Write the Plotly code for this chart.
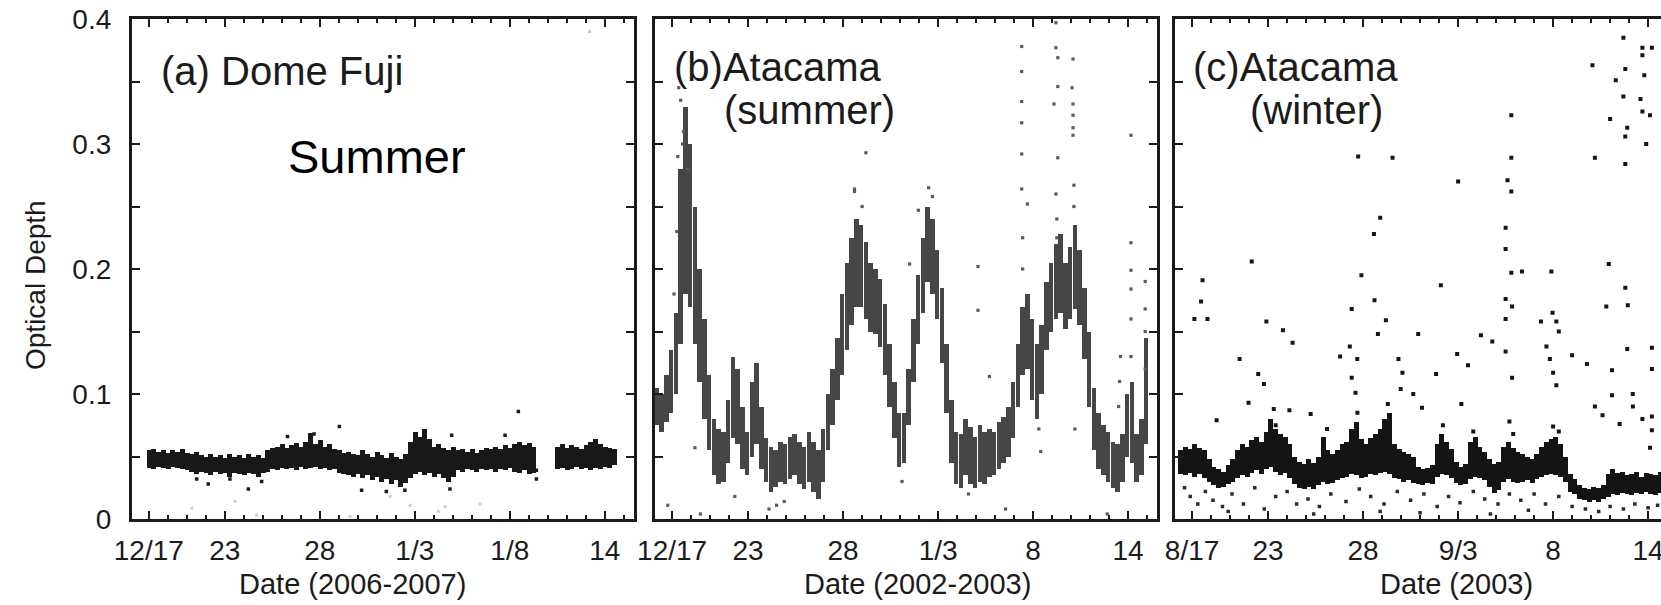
import plotly.graph_objects as go

# ---------------------------------------------------------------- data
# Each panel: samples every 0.25 day (x in days from the left axis edge),
# optical depth given as the lower and upper edge of the scatter cloud.
A_T0, B_T0, C_T0, STEP = 0.9, 0.1, 0.3, 0.25

dome_lo = [0.041, 0.040, 0.042, 0.041, 0.040, 0.042, 0.041, 0.040, 0.039, 0.038,
           0.036, 0.038, 0.037, 0.035, 0.038, 0.036, 0.037, 0.034, 0.037, 0.036,
           0.035, 0.037, 0.036, 0.034, 0.037, 0.038, 0.040, 0.039, 0.041, 0.040,
           0.041, 0.039, 0.042, 0.040, 0.041, 0.042, 0.040, 0.041, 0.039, 0.040,
           0.037, 0.036, 0.035, 0.034, 0.036, 0.033, 0.035, 0.031, 0.034, 0.030,
           0.032, 0.028, 0.031, 0.026, 0.029, 0.033, 0.036, 0.038, 0.035, 0.037,
           0.034, 0.036, 0.033, 0.030, 0.034, 0.039, 0.038, 0.040, 0.039, 0.038,
           0.040, 0.039, 0.040, 0.038, 0.040, 0.039, 0.041, 0.038, 0.037, 0.039,
           0.036, 0.037, None, None, None, None, 0.040, 0.041, 0.039, 0.040,
           0.042, 0.040, 0.041, 0.039, 0.041, 0.040, 0.042, 0.041, 0.043]
dome_hi = [0.055, 0.056, 0.054, 0.055, 0.053, 0.055, 0.054, 0.056, 0.053, 0.052,
           0.054, 0.051, 0.050, 0.052, 0.050, 0.051, 0.049, 0.052, 0.050, 0.051,
           0.049, 0.052, 0.050, 0.051, 0.049, 0.055, 0.057, 0.058, 0.060, 0.057,
           0.059, 0.061, 0.058, 0.062, 0.069, 0.060, 0.063, 0.058, 0.060, 0.056,
           0.055, 0.053, 0.054, 0.052, 0.051, 0.055, 0.052, 0.050, 0.054, 0.051,
           0.049, 0.053, 0.050, 0.048, 0.052, 0.062, 0.070, 0.066, 0.072, 0.064,
           0.058, 0.060, 0.057, 0.055, 0.058, 0.055, 0.056, 0.054, 0.056, 0.053,
           0.055, 0.057, 0.056, 0.058, 0.056, 0.059, 0.057, 0.060, 0.062, 0.059,
           0.061, 0.058, None, None, None, None, 0.058, 0.060, 0.057, 0.059,
           0.058, 0.056, 0.059, 0.062, 0.064, 0.060, 0.058, 0.057, 0.056]

atas_lo = [0.075, 0.070, 0.078, 0.085, 0.100, 0.140, 0.180, 0.170, 0.140, 0.110,
           0.080, 0.055, 0.035, 0.028, 0.030, 0.045, 0.065, 0.060, 0.040, 0.035,
           0.050, 0.060, 0.040, 0.030, 0.022, 0.026, 0.030, 0.028, 0.032, 0.035,
           0.028, 0.024, 0.030, 0.022, 0.016, 0.030, 0.055, 0.075, 0.095, 0.115,
           0.135, 0.155, 0.170, 0.170, 0.160, 0.150, 0.148, 0.138, 0.115, 0.090,
           0.065, 0.042, 0.045, 0.075, 0.110, 0.140, 0.165, 0.190, 0.180, 0.160,
           0.125, 0.085, 0.045, 0.028, 0.025, 0.035, 0.028, 0.025, 0.030, 0.028,
           0.034, 0.035, 0.040, 0.045, 0.050, 0.065, 0.090, 0.115, 0.120, 0.095,
           0.080, 0.100, 0.135, 0.150, 0.160, 0.165, 0.152, 0.160, 0.168, 0.155,
           0.128, 0.090, 0.055, 0.040, 0.035, 0.030, 0.025, 0.022, 0.030, 0.050,
           0.045, 0.030, 0.035, 0.060]
atas_hi = [0.105, 0.100, 0.115, 0.135, 0.165, 0.280, 0.330, 0.300, 0.250, 0.200,
           0.160, 0.115, 0.080, 0.072, 0.070, 0.095, 0.130, 0.120, 0.090, 0.070,
           0.110, 0.125, 0.090, 0.065, 0.058, 0.055, 0.062, 0.060, 0.066, 0.068,
           0.062, 0.058, 0.070, 0.062, 0.055, 0.072, 0.100, 0.120, 0.145, 0.180,
           0.205, 0.225, 0.240, 0.235, 0.222, 0.205, 0.200, 0.192, 0.172, 0.140,
           0.110, 0.085, 0.085, 0.120, 0.160, 0.195, 0.225, 0.250, 0.240, 0.215,
           0.185, 0.140, 0.095, 0.070, 0.068, 0.080, 0.074, 0.066, 0.075, 0.070,
           0.072, 0.070, 0.078, 0.082, 0.090, 0.110, 0.140, 0.170, 0.180, 0.160,
           0.140, 0.155, 0.190, 0.205, 0.220, 0.228, 0.205, 0.218, 0.235, 0.215,
           0.185, 0.150, 0.105, 0.085, 0.075, 0.070, 0.062, 0.060, 0.068, 0.100,
           0.110, 0.068, 0.080, 0.145]

ataw_lo = [0.036, 0.035, 0.037, 0.034, 0.036, 0.033, 0.030, 0.027, 0.025, 0.026,
           0.028, 0.030, 0.033, 0.035, 0.034, 0.037, 0.039, 0.036, 0.040, 0.042,
           0.038, 0.035, 0.037, 0.033, 0.028, 0.025, 0.024, 0.026, 0.024, 0.027,
           0.030, 0.028, 0.029, 0.031, 0.033, 0.034, 0.036, 0.035, 0.033, 0.034,
           0.036, 0.035, 0.037, 0.038, 0.036, 0.033, 0.032, 0.030, 0.031, 0.029,
           0.028, 0.027, 0.029, 0.028, 0.034, 0.036, 0.035, 0.033, 0.029, 0.027,
           0.028, 0.032, 0.034, 0.033, 0.031, 0.026, 0.021, 0.023, 0.030, 0.032,
           0.030, 0.029, 0.030, 0.031, 0.029, 0.032, 0.034, 0.035, 0.036, 0.035,
           0.034, 0.030, 0.022, 0.020, 0.016, 0.015, 0.014, 0.015, 0.014, 0.016,
           0.018, 0.020, 0.019, 0.021, 0.020, 0.019, 0.021, 0.020, 0.022, 0.020,
           0.019, 0.021]
ataw_hi = [0.055, 0.058, 0.056, 0.060, 0.057, 0.055, 0.048, 0.042, 0.040, 0.038,
           0.043, 0.048, 0.055, 0.060, 0.058, 0.063, 0.066, 0.062, 0.070, 0.080,
           0.072, 0.068, 0.066, 0.060, 0.050, 0.046, 0.044, 0.048, 0.045, 0.050,
           0.066, 0.055, 0.052, 0.055, 0.060, 0.062, 0.072, 0.078, 0.064, 0.060,
           0.065, 0.068, 0.072, 0.080, 0.085, 0.060, 0.056, 0.054, 0.052, 0.050,
           0.042, 0.040, 0.041, 0.043, 0.060, 0.068, 0.062, 0.056, 0.046, 0.042,
           0.044, 0.062, 0.066, 0.058, 0.054, 0.048, 0.044, 0.046, 0.058, 0.062,
           0.057, 0.054, 0.052, 0.050, 0.048, 0.052, 0.058, 0.062, 0.064, 0.066,
           0.060, 0.050, 0.036, 0.032, 0.027, 0.025, 0.024, 0.026, 0.025, 0.027,
           0.036, 0.040, 0.037, 0.038, 0.035, 0.036, 0.038, 0.034, 0.037, 0.036,
           0.035, 0.038]

# isolated measurements (day, optical depth)
dome_pts_x = [6.14, 10.93, 20.35, 12.1, 13.4, 14.38, 16.75, 16.84, 19.65, 21.3, 21.3,
              3.42, 4.03, 5.17, 6.84, 8.2, 9.6]
dome_pts_y = [0.024, 0.074, 0.086, 0.023, 0.022, 0.023, 0.024, 0.067, 0.067, 0.039, 0.032,
              0.032, 0.028, 0.032, 0.030, 0.066, 0.068]
dome_faint_x = [3.16, 2.9, 5.44, 6.58, 11.49, 13.6, 14.65, 16.14, 16.5, 18.33, 24.1]
dome_faint_y = [0.0085, 0.003, 0.014, 0.003, 0.002, 0.018, 0.011, 0.006, 0.010, 0.012, 0.39]

atas_pts_x = [0.67, 2.39, 2.1, 4.2, 6.0, 6.4, 6.8, 11.1, 10.5, 13.86, 13.4, 17.0, 17.0,
              17.6, 18.45, 19.3, 19.3, 19.3, 19.3, 19.3, 19.3, 19.6, 19.35, 19.35,
              21.1, 21.1, 21.2, 21.2, 21.0, 21.2, 21.1, 21.15, 21.15,
              22.0, 22.0, 22.0, 22.0, 22.0, 22.05, 22.05, 21.95,
              25.05, 25.05, 25.05, 25.05, 25.05, 25.05, 25.8, 25.8, 25.8, 25.8,
              22.1, 20.3, 23.8, 16.5, 20.2, 1.25, 1.35, 1.5, 1.2, 1.45, 1.7,
              1.15, 1.0, 10.5, 14.4, 14.6, 10.9, 13.0, 24.4, 24.45, 24.5]
atas_pts_y = [0.011, 0.004, 0.057, 0.018, 0.008, 0.011, 0.014, 0.293, 0.264, 0.247, 0.204,
              0.202, 0.167, 0.114, 0.008, 0.378, 0.358, 0.334, 0.317, 0.292, 0.264, 0.252,
              0.225, 0.200, 0.397, 0.377, 0.369, 0.346, 0.332, 0.289, 0.260, 0.240, 0.225,
              0.368, 0.332, 0.323, 0.313, 0.307, 0.267, 0.250, 0.345,
              0.307, 0.221, 0.199, 0.184, 0.160, 0.130, 0.190, 0.168, 0.150, 0.120,
              0.072, 0.054, 0.004, 0.020, 0.072, 0.345, 0.335, 0.310, 0.290, 0.300, 0.280,
              0.230, 0.180, 0.262, 0.265, 0.258, 0.250, 0.030, 0.090, 0.110, 0.130]

ataw_pts_x = [1.45, 1.37, 1.02, 1.71, 4.04, 4.81, 5.68, 6.19, 3.4, 4.38, 4.68, 3.87, 2.19,
              6.02, 7.14, 9.64, 11.45, 9.81, 9.3, 8.69, 9.2, 9.59, 9.3, 9.5, 10.5, 10.68,
              11.1, 10.8, 10.47, 11.76, 11.97, 11.88, 12.54, 13.0, 12.8, 13.74, 14.9,
              13.99, 14.85, 15.42, 15.07, 16.1, 16.7, 17.4, 17.74, 17.4, 17.4, 17.7, 17.7,
              17.5, 17.7, 17.7, 18.26, 17.4, 17.74, 17.4, 19.81, 19.87, 19.26, 20.07,
              20.2, 19.55, 19.73, 19.9, 20.07, 20.9, 21.68, 23.0, 23.8, 25.1, 25.1,
              22.83, 22.7, 23.7, 23.83, 23.0, 24.09, 22.1, 22.5, 23.4, 24.1, 24.6, 25.1,
              22.1, 21.97, 23.2, 23.6, 23.7, 23.6, 23.8, 23.7, 23.7, 22.9, 24.6, 24.6,
              25.1, 24.7, 24.5, 24.6, 25.0, 24.8, 25.1, 25.0,
              5.2, 5.3, 8.0, 9.6, 11.2, 11.3, 14.1, 15.7, 17.6, 17.8, 19.9, 20.2]
ataw_pts_y = [0.191, 0.174, 0.160, 0.160, 0.206, 0.158, 0.151, 0.141, 0.128, 0.116, 0.108,
              0.093, 0.079, 0.087, 0.084, 0.290, 0.289, 0.195, 0.168, 0.130, 0.138, 0.128,
              0.113, 0.101, 0.175, 0.148, 0.159, 0.241, 0.228, 0.128, 0.117, 0.104, 0.100,
              0.089, 0.148, 0.116, 0.270, 0.187, 0.132, 0.123, 0.092, 0.147, 0.142, 0.134,
              0.113, 0.233, 0.216, 0.323, 0.289, 0.271, 0.262, 0.197, 0.198, 0.176, 0.170,
              0.160, 0.198, 0.165, 0.158, 0.158, 0.150, 0.138, 0.128, 0.117, 0.107, 0.131,
              0.124, 0.119, 0.136, 0.137, 0.120, 0.204, 0.170, 0.185, 0.171, 0.099, 0.100,
              0.090, 0.083, 0.076, 0.090, 0.080, 0.082, 0.289, 0.363, 0.351, 0.385, 0.360,
              0.338, 0.313, 0.306, 0.284, 0.320, 0.377, 0.371, 0.377, 0.355, 0.336, 0.326,
              0.323, 0.300, 0.071, 0.057,
              0.088, 0.075, 0.072, 0.085, 0.092, 0.078, 0.075, 0.070, 0.078, 0.068, 0.074, 0.070]
ataw_low_x = [0.5, 0.8, 1.2, 1.6, 2.0, 2.5, 3.0, 3.6, 4.2, 4.7, 5.3, 5.9, 6.4, 7.0, 7.6,
              8.2, 9.0, 9.7, 10.3, 11.0, 11.7, 12.4, 13.1, 13.8, 14.4, 15.0, 15.7, 16.3,
              17.0, 17.6, 18.2, 18.9, 19.5, 20.2, 20.9, 21.6, 22.3, 22.9, 23.6, 24.2,
              24.9, 25.4, 10.8, 12.9, 16.6, 18.6, 7.3, 2.8]
ataw_low_y = [0.025, 0.018, 0.012, 0.022, 0.015, 0.010, 0.020, 0.012, 0.025, 0.008, 0.018,
              0.022, 0.012, 0.016, 0.010, 0.020, 0.014, 0.024, 0.018, 0.012, 0.022, 0.015,
              0.020, 0.010, 0.018, 0.013, 0.022, 0.016, 0.012, 0.020, 0.015, 0.020, 0.012,
              0.018, 0.010, 0.008, 0.006, 0.010, 0.008, 0.012, 0.009, 0.011, 0.006, 0.005,
              0.004, 0.007, 0.004, 0.006]

# tick labels
ticks_a = ["12/17", "23", "28", "1/3", "1/8", "14"]
ticks_b = ["12/17", "23", "28", "1/3", "8", "14"]
ticks_c = ["8/17", "23", "28", "9/3", "8", "14"]
tick_days = [0.9, 4.9, 9.9, 14.9, 19.9, 24.9]

# ---------------------------------------------------------------- layout geometry
W, H = 1661, 605
PX_PER_DAY = 19.0
LEFTS = [131.7, 655.0, 1175.0]
PANEL_W = 502.0
Y_TOP, Y_BOT = 19.0, 519.0
FONT = "Liberation Sans, Arial, Helvetica, sans-serif"
INK = "#1b1b1b"


def band(t0, lo, hi):
    t = [round(t0 + STEP * i, 3) for i in range(len(lo))]
    h = [None if a is None else round(b - a, 4) for a, b in zip(lo, hi)]
    return t, h


fig = go.Figure()

panels = [
    (A_T0, dome_lo, dome_hi, "#181818", 0.26),
    (B_T0, atas_lo, atas_hi, "#464646", 0.24),
    (C_T0, ataw_lo, ataw_hi, "#141414", 0.26),
]
for k, (t0, lo, hi, col, wd) in enumerate(panels):
    t, h = band(t0, lo, hi)
    ax = "" if k == 0 else str(k + 1)
    fig.add_trace(go.Bar(x=t, y=h, base=lo, width=wd,
                         marker=dict(color=col, line=dict(width=0)),
                         xaxis="x" + ax, yaxis="y" + ax, showlegend=False))

dots = [
    (dome_faint_x, dome_faint_y, "#cfcfcf", 3, ""),
    (dome_pts_x, dome_pts_y, "#1b1b1b", 3.5, ""),
    (atas_pts_x, atas_pts_y, "#5a5a5a", 3.2, "2"),
    (ataw_low_x, ataw_low_y, "#2a2a2a", 3.5, "3"),
    (ataw_pts_x, ataw_pts_y, "#151515", 4, "3"),
]
for xs, ys, col, sz, ax in dots:
    fig.add_trace(go.Scatter(x=xs, y=ys, mode="markers",
                             marker=dict(symbol="square", size=sz, color=col, line=dict(width=0)),
                             xaxis="x" + ax, yaxis="y" + ax, showlegend=False, cliponaxis=True))

ydom = [1 - Y_BOT / H, 1 - Y_TOP / H]
common_x = dict(tickmode="array", tickvals=tick_days, ticks="inside", ticklen=8, tickwidth=2,
                tickcolor=INK, showline=True, linewidth=2.6, linecolor=INK, mirror="allticks",
                showgrid=False, zeroline=False, ticklabelstandoff=5, automargin=False,
                tickfont=dict(family=FONT, size=28, color=INK),
                minor=dict(tickmode="linear", tick0=tick_days[0], dtick=1, ticks="inside",
                           ticklen=4, tickwidth=1.6, tickcolor=INK, showgrid=False))
common_y = dict(range=[0, 0.4], tickmode="array", tickvals=[0, 0.1, 0.2, 0.3, 0.4],
                ticktext=["0", "0.1", "0.2", "0.3", "0.4"], ticks="inside", ticklen=8,
                tickwidth=2, tickcolor=INK, showline=True, linewidth=2.6, linecolor=INK,
                showgrid=False, zeroline=False, ticklabelstandoff=12, automargin=False,
                tickfont=dict(family=FONT, size=28, color=INK),
                minor=dict(tickmode="linear", tick0=0, dtick=0.05, ticks="inside",
                           ticklen=8, tickwidth=2, tickcolor=INK, showgrid=False))

c_days = (W - LEFTS[2]) / PX_PER_DAY
fig.update_layout(
    width=W, height=H, margin=dict(l=0, r=0, t=0, b=0, pad=0, autoexpand=False),
    paper_bgcolor="white", plot_bgcolor="white", barmode="overlay", bargap=0,
    xaxis=dict(domain=[LEFTS[0] / W, (LEFTS[0] + PANEL_W) / W], range=[0, PANEL_W / PX_PER_DAY],
               ticktext=ticks_a, anchor="y", **common_x),
    xaxis2=dict(domain=[LEFTS[1] / W, (LEFTS[1] + PANEL_W) / W], range=[0, PANEL_W / PX_PER_DAY],
                ticktext=ticks_b, anchor="y2", **common_x),
    xaxis3=dict(domain=[LEFTS[2] / W, 1.0], range=[0, c_days], ticktext=ticks_c, anchor="y3",
                ticklabeloverflow="allow", **common_x),
    yaxis=dict(domain=ydom, anchor="x", mirror="allticks", **common_y),
    yaxis2=dict(domain=ydom, anchor="x2", mirror="allticks", showticklabels=False, **common_y),
    yaxis3=dict(domain=ydom, anchor="x3", mirror=False, showticklabels=False, **common_y),
)


def note(text, x, y, size, xanchor="left", color=INK, angle=0):
    fig.add_annotation(text=text, x=x / W, y=1 - y / H, xref="paper", yref="paper",
                       xanchor=xanchor, yanchor="middle", showarrow=False, textangle=angle,
                       font=dict(family=FONT, size=size, color=color))


note("(a) Dome Fuji", 159, 71, 40)
note("Summer", 286, 156, 47, color="#000000")
note("(b)Atacama", 672, 67, 40)
note("(summer)", 722, 110, 40)
note("(c)Atacama", 1191, 67, 40)
note("(winter)", 1248, 110, 40)
note("Date (2006-2007)", 352, 584, 29, xanchor="center")
note("Date (2002-2003)", 917, 584, 29, xanchor="center")
note("Date (2003)", 1456, 584, 29, xanchor="center")
note("Optical Depth", 35, 285, 28, xanchor="center", angle=-90)

fig.write_html("out.html")
